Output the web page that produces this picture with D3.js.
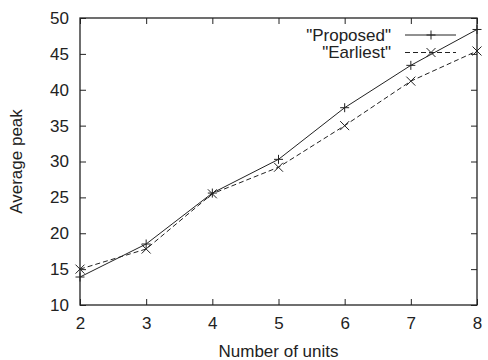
<!DOCTYPE html>
<html>
<head>
<meta charset="utf-8">
<script src="https://cdn.jsdelivr.net/npm/d3@7/dist/d3.min.js"></script>
<style>
  html, body { margin: 0; padding: 0; background: #fff; }
  svg { display: block; font-family: "Liberation Sans", Arial, Helvetica, sans-serif; }
</style>
</head>
<body>
<svg id="chart" width="488" height="360"></svg>
<script>
// Data
const units = [2, 3, 4, 5, 6, 7, 8];
const proposed = [13.9, 18.5, 25.6, 30.3, 37.5, 43.4, 48.4];
const earliest = [15.0, 17.8, 25.5, 29.2, 35.0, 41.2, 45.4];
const xTicks = [2, 3, 4, 5, 6, 7, 8];
const yTicks = [10, 15, 20, 25, 30, 35, 40, 45, 50];
const seriesNames = ['"Proposed"', '"Earliest"'];

const svg = d3.select("#chart");
const m = { left: 80, right: 11, top: 18, bottom: 55 };
const W = 488, H = 360;
const x = d3.scaleLinear().domain([2, 8]).range([m.left, W - m.right]);
const y = d3.scaleLinear().domain([10, 50]).range([H - m.bottom, m.top]);
const ink = "#222";
const tickLen = 6;
const fontSize = 17;

// Frame
svg.append("rect")
  .attr("x", x(2)).attr("y", y(50))
  .attr("width", x(8) - x(2)).attr("height", y(10) - y(50))
  .attr("fill", "none").attr("stroke", ink).attr("stroke-width", 1.3);

// Inward ticks on all four sides
const axisFont = g => g.attr("font-size", fontSize).attr("font-family", "Liberation Sans, Arial, sans-serif");
svg.append("g").attr("transform", `translate(0,${y(10)})`)
  .call(d3.axisBottom(x).tickValues(xTicks).tickSize(-tickLen).tickPadding(12).tickFormat(d3.format("d")))
  .call(axisFont)
  .call(g => g.select(".domain").remove())
  .call(g => g.selectAll("line").attr("stroke", ink))
  .call(g => g.selectAll("text").attr("fill", ink));
svg.append("g").attr("transform", `translate(0,${y(50)})`)
  .call(d3.axisTop(x).tickValues(xTicks).tickSize(-tickLen).tickFormat(""))
  .call(g => g.select(".domain").remove())
  .call(g => g.selectAll("line").attr("stroke", ink));
svg.append("g").attr("transform", `translate(${x(2)},0)`)
  .call(d3.axisLeft(y).tickValues(yTicks).tickSize(-tickLen).tickPadding(11).tickFormat(d3.format("d")))
  .call(axisFont)
  .call(g => g.select(".domain").remove())
  .call(g => g.selectAll("line").attr("stroke", ink))
  .call(g => g.selectAll("text").attr("fill", ink));
svg.append("g").attr("transform", `translate(${x(8)},0)`)
  .call(d3.axisRight(y).tickValues(yTicks).tickSize(-tickLen).tickFormat(""))
  .call(g => g.select(".domain").remove())
  .call(g => g.selectAll("line").attr("stroke", ink));

// Axis titles
svg.append("text")
  .attr("x", (x(2) + x(8)) / 2).attr("y", 357)
  .attr("text-anchor", "middle").attr("font-size", fontSize).attr("fill", ink)
  .text("Number of units");
svg.append("text")
  .attr("transform", `translate(22,${(y(10) + y(50)) / 2}) rotate(-90)`)
  .attr("text-anchor", "middle").attr("font-size", fontSize).attr("fill", ink)
  .text("Average peak");

// Marker shapes
const plus = (g, cx, cy) => g.append("path")
  .attr("d", `M${cx - 4.5},${cy}H${cx + 4.5}M${cx},${cy - 4.5}V${cy + 4.5}`)
  .attr("stroke", ink).attr("stroke-width", 1).attr("fill", "none");
const cross = (g, cx, cy) => g.append("path")
  .attr("d", `M${cx - 4.5},${cy - 4.5}L${cx + 4.5},${cy + 4.5}M${cx - 4.5},${cy + 4.5}L${cx + 4.5},${cy - 4.5}`)
  .attr("stroke", ink).attr("stroke-width", 1).attr("fill", "none");

const series = [
  { name: seriesNames[0], values: proposed, dash: null, marker: plus },
  { name: seriesNames[1], values: earliest, dash: "5,3", marker: cross }
];

const line = d3.line().x((d, i) => x(units[i])).y(d => y(d));
const plot = svg.append("g");
series.forEach(s => {
  plot.append("path")
    .datum(s.values)
    .attr("d", line)
    .attr("fill", "none").attr("stroke", ink).attr("stroke-width", 1)
    .attr("stroke-dasharray", s.dash);
  s.values.forEach((v, i) => s.marker(plot, x(units[i]), y(v)));
});

// Legend
const legend = svg.append("g");
series.forEach((s, i) => {
  const ly = 35 + i * 17.5;
  legend.append("text")
    .attr("x", 391).attr("y", ly).attr("dy", "0.35em")
    .attr("text-anchor", "end").attr("font-size", fontSize).attr("fill", ink)
    .text(s.name);
  legend.append("line")
    .attr("x1", 405).attr("x2", 456).attr("y1", ly).attr("y2", ly)
    .attr("stroke", ink).attr("stroke-width", 1).attr("stroke-dasharray", s.dash);
  s.marker(legend, 431, ly);
});
</script>
</body>
</html>
